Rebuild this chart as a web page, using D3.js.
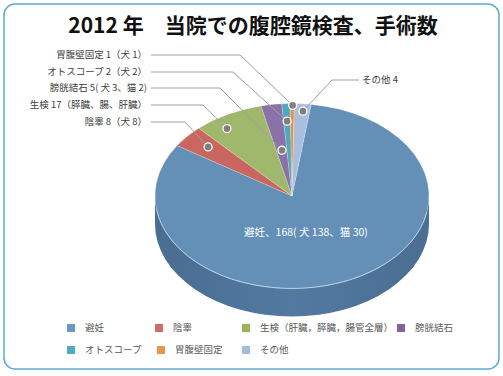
<!DOCTYPE html>
<html><head><meta charset="utf-8">
<script src="https://cdn.jsdelivr.net/npm/d3@7"></script>
<style>
html,body{margin:0;padding:0;background:#fff;}
svg{display:block;font-family:"Noto Sans CJK JP","Noto Sans",sans-serif;}
</style></head>
<body><svg id="c" width="503" height="376"></svg>
<script>
// ---- data ----
const title = "2012 年　当院での腹腔鏡検査、手術数";
const categories = ["避妊","陰睾","生検（肝臓，膵臓，腸管全層）","膀胱結石","オトスコープ","胃腹壁固定","その他"];
const values = [168, 8, 17, 5, 2, 1, 4];
const sliceLabels = ["避妊、168( 犬 138、猫 30)","陰睾 8（犬 8）","生検 17（膵臓、腸、肝臓）","膀胱結石 5( 犬 3、猫 2)","オトスコープ 2（犬 2）","胃腹壁固定 1（犬 1）","その他 4"];
const topColors = ["#6490b8","#c9665f","#a0b86b","#8a71a8","#4ea8bf","#e99049","#a9bfdd"];
const legendColors = ["#6a97c7","#d06d66","#9bb45c","#8064a2","#4bacc6","#e8974e","#a6bcdc"];

// ---- layout ----
const svg = d3.select("#c");
const cx = 292, cy = 196, rx = 137, ry = 92.5, depth = 28;
const deg = Math.PI/180;
const start = 8*deg;

svg.append("rect").attr("x",4).attr("y",4).attr("width",495).attr("height",365)
  .attr("rx",11).attr("fill","#fff").attr("stroke","#5da9d5").attr("stroke-width",1.5);

svg.append("text").attr("x",253).attr("y",33).attr("text-anchor","middle")
  .attr("font-size",21).attr("font-weight","bold").attr("fill","#111").text(title);

const pie = d3.pie().sort(null).startAngle(start).endAngle(start + 2*Math.PI);
const arcs = pie(values);
const P = (a, f=1, dz=0) => [cx + rx*f*Math.sin(a), cy - ry*f*Math.cos(a) + dz];

const defs = svg.append("defs");
const sg = defs.append("linearGradient").attr("id","side").attr("x1","0").attr("x2","1").attr("y1","0").attr("y2","0");
sg.append("stop").attr("offset","0").attr("stop-color","#4a6d91");
sg.append("stop").attr("offset","0.5").attr("stop-color","#52799f");
sg.append("stop").attr("offset","1").attr("stop-color","#4b6e92");

// side walls (front half only)
const gSide = svg.append("g");
arcs.forEach((d,i) => {
  let a0 = Math.max(d.startAngle, Math.PI/2), a1 = Math.min(d.endAngle, 3*Math.PI/2);
  // handle wrap
  if (a1 <= a0) return;
  const p0 = P(a0), p1 = P(a1), q0 = P(a0,1,depth), q1 = P(a1,1,depth);
  const path = `M${p0}A${rx},${ry} 0 0 1 ${p1}L${q1}A${rx},${ry} 0 0 0 ${q0}Z`;
  gSide.append("path").attr("d",path).attr("fill", i===0 ? "url(#side)" : d3.color(topColors[i]).darker(0.6));
});

// top slices
const gTop = svg.append("g");
arcs.forEach((d,i) => {
  const p0 = P(d.startAngle), p1 = P(d.endAngle);
  const large = (d.endAngle - d.startAngle) > Math.PI ? 1 : 0;
  gTop.append("path")
    .attr("d", `M${cx},${cy}L${p0}A${rx},${ry} 0 ${large} 1 ${p1}Z`)
    .attr("fill", topColors[i]).attr("stroke","rgba(255,255,255,0.35)").attr("stroke-width",0.6);
});
// rim highlight
{
  const a0 = 100*deg, a1 = 262*deg;
  svg.append("path").attr("d",`M${P(a0)}A${rx},${ry} 0 0 1 ${P(a1)}`)
    .attr("fill","none").attr("stroke","rgba(190,212,235,0.75)").attr("stroke-width",1);
}

// label layout (positions only)
const labelLayout = [
  null,
  {t:0.56, r:0.81, ty:122, ex:185},
  {t:0.33, r:0.87, ty:105, ex:203},
  {t:0.53, r:0.50, ty:88,  ex:220},
  {t:0.50, r:0.81, ty:72,  ex:233},
  {t:0.60, r:0.98, ty:55,  ex:240},
  {t:0.57, r:0.92, ty:80,  ex:332, right:true}
];
const gL = svg.append("g");
arcs.forEach((d,i) => {
  const L = labelLayout[i];
  if (!L) return;
  const a = d.startAngle + L.t*(d.endAngle - d.startAngle);
  const dot = P(a, L.r);
  const x0 = L.right ? 359 : 151;
  gL.append("polyline").attr("points", `${x0},${L.ty} ${L.ex},${L.ty} ${dot}`)
    .attr("fill","none").attr("stroke","#a0a0a0").attr("stroke-width",1);
  gL.append("circle").attr("cx",dot[0]).attr("cy",dot[1]).attr("r",4)
    .attr("fill","#7f7f7f").attr("stroke","#fff").attr("stroke-width",1.3);
  gL.append("text").attr("x", L.right ? 362 : 147).attr("y", L.ty).attr("dy","0.35em")
    .attr("text-anchor", L.right ? "start" : "end").attr("font-size",9.5).attr("fill","#404040")
    .text(sliceLabels[i]);
});
svg.append("text").attr("x",306).attr("y",232).attr("dy","0.35em").attr("text-anchor","middle")
  .attr("font-size",10.5).attr("fill","#fff").text(sliceLabels[0]);

// legend
const legendPos = [[67,328],[155,328],[242,328],[397,328],[67,350],[157,350],[242,350]];
const gLeg = svg.append("g");
categories.forEach((c,i) => {
  const [x,y] = legendPos[i];
  gLeg.append("rect").attr("x",x).attr("y",y-4).attr("width",8).attr("height",8).attr("fill",legendColors[i]);
  gLeg.append("text").attr("x",x+18).attr("y",y).attr("dy","0.35em").attr("font-size",9.5)
    .attr("fill","#595959").text(c);
});
</script></body></html>
